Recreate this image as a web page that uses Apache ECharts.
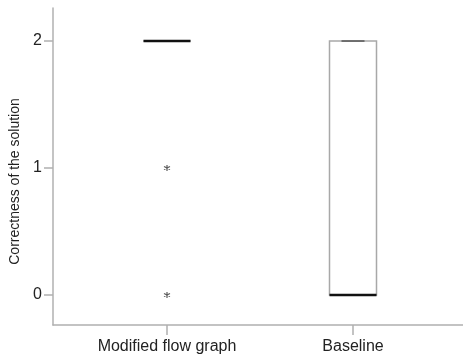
<!DOCTYPE html>
<html>
<head>
<meta charset="utf-8">
<script src="https://cdn.jsdelivr.net/npm/echarts@6/dist/echarts.min.js"></script>
<style>html,body{margin:0;padding:0;background:#fff}#c{width:463px;height:358px}</style>
</head>
<body>
<div id="c"></div>
<script>
// Data
const categories = ['Modified flow graph', 'Baseline'];
// [min, Q1, median, Q3, max]
const boxValues = [
  [2, 2, 2, 2, 2],
  [0, 0, 0, 2, 2]
];
// outliers: [categoryIndex, value]
const outliers = [[0, 1], [0, 0]];
const yTicks = [0, 1, 2];
const yTitle = 'Correctness of the solution';

const chart = echarts.init(document.getElementById('c'), null, {renderer: 'canvas'});
const FONT = 'Liberation Sans, Arial, sans-serif';
const AX = '#b0b0b0';
const yMin = -0.236, yMax = 2.26;

const starPath = 'path://M5,0L5,10M0.67,2.5L9.33,7.5M0.67,7.5L9.33,2.5';

chart.setOption({
  animation: false,
  backgroundColor: '#fff',
  grid: [
    {left: 53, right: 0, top: 8, bottom: 33, outerBoundsMode: 'none', containLabel: false},
    {left: 74, right: 17, top: 8, bottom: 33, outerBoundsMode: 'none', containLabel: false}
  ],
  xAxis: [
    {
      gridIndex: 0, type: 'value', min: 0, max: 1,
      axisLine: {show: true, onZero: false, lineStyle: {color: AX, width: 1.5}},
      axisTick: {show: false}, axisLabel: {show: false}, splitLine: {show: false}
    },
    {
      gridIndex: 1, type: 'category', data: categories,
      axisLine: {show: false, onZero: false},
      axisTick: {show: true, alignWithLabel: true, length: 10, lineStyle: {color: AX, width: 1.5}},
      axisLabel: {margin: 14, fontSize: 16, color: '#222', fontFamily: FONT},
      splitLine: {show: false}
    }
  ],
  yAxis: [
    {
      gridIndex: 0, type: 'value', min: yMin, max: yMax,
      name: yTitle, nameLocation: 'middle', nameGap: 25,
      nameTextStyle: {fontSize: 14, color: '#222', fontFamily: FONT, padding: [0, 30, 0, 0]},
      axisLine: {show: true, onZero: false, lineStyle: {color: AX, width: 1.5}},
      axisTick: {show: true, length: 9, lineStyle: {color: AX, width: 1.5}, customValues: yTicks},
      axisLabel: {margin: 11, fontSize: 16, color: '#222', fontFamily: FONT, customValues: yTicks},
      splitLine: {show: false}
    },
    {
      gridIndex: 1, type: 'value', min: yMin, max: yMax, show: false,
      splitLine: {show: false}
    }
  ],
  series: [
    {
      type: 'boxplot', xAxisIndex: 1, yAxisIndex: 1, z: 2,
      data: boxValues,
      boxWidth: [47, 47],
      itemStyle: {color: '#fff', borderColor: '#a8a8a8', borderWidth: 1.5},
      emphasis: {disabled: true}
    },
    {
      type: 'custom', xAxisIndex: 1, yAxisIndex: 1, z: 5,
      data: boxValues.map((v, i) => [i, v[0], v[2], v[4]]),
      renderItem: function (params, api) {
        const idx = api.value(0);
        const pMed = api.coord([idx, api.value(2)]);
        const pMin = api.coord([idx, api.value(1)]);
        const pMax = api.coord([idx, api.value(3)]);
        const half = 23.5, wq = 11.5;
        return {
          type: 'group',
          children: [
            {type: 'line', shape: {x1: pMax[0] - wq, y1: pMax[1], x2: pMax[0] + wq, y2: pMax[1]},
             style: {stroke: '#555555', lineWidth: 1.5, opacity: 1}},
            {type: 'line', shape: {x1: pMin[0] - wq, y1: pMin[1], x2: pMin[0] + wq, y2: pMin[1]},
             style: {stroke: '#555555', lineWidth: 1.5, opacity: 1}},
            {type: 'line', shape: {x1: pMed[0] - half, y1: pMed[1], x2: pMed[0] + half, y2: pMed[1]},
             style: {stroke: '#111111', lineWidth: 2.5, opacity: 1}}
          ]
        };
      },
      silent: true
    },
    {
      type: 'scatter', xAxisIndex: 1, yAxisIndex: 1, z: 6,
      data: outliers,
      symbol: starPath, symbolSize: 6,
      itemStyle: {color: '#333', borderColor: '#333', borderWidth: 1.2},
      silent: true
    }
  ]
});
</script>
</body>
</html>
